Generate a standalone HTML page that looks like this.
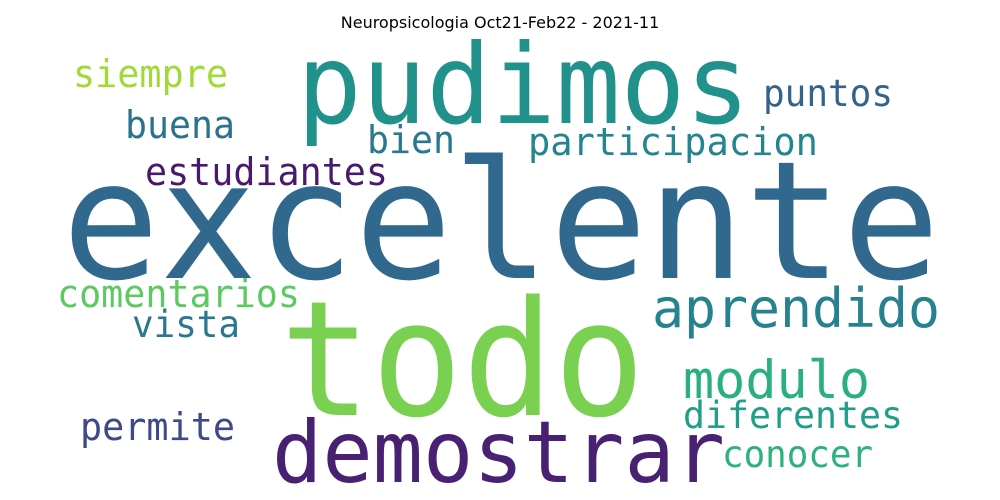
<!DOCTYPE html>
<html><head><meta charset="utf-8"><style>
html,body{margin:0;padding:0;background:#fff;width:1000px;height:500px;overflow:hidden}
svg text{font-family:"DejaVu Sans Mono","Liberation Mono",monospace}
</style></head><body>
<svg width="1000" height="500">
<text x="500" y="28" text-anchor="middle" font-size="16" style="font-family:'DejaVu Sans','Liberation Sans',sans-serif">Neuropsicologia Oct21-Feb22 - 2021-11</text>
<g id="cloud"></g>
</svg>
<script>
const words=["excelente","pudimos","todo","demostrar","aprendido","modulo","diferentes","conocer","permite","vista","comentarios","estudiantes","bien","buena","siempre","participacion","puntos"];
const fontSizes=[164,111,160,86,54,53,37,37,38,37,38,38,38,38,38,38,37];
const wordColors=["#31688e","#21918c","#7ad151","#482173","#26828e","#2ab07f","#1f9e89","#2db27d","#3e4989","#2a788e","#5ec962","#481a6c","#2a788e","#2c728e","#a0da39","#25858e","#33638d"];
const boxes=[[62,278,878],[297,123,453],[280,415,365],[272,482,453],[652,327,288],[683,398,187],[683,428,220],[722,467,151],[80,440,155],[132,337,108],[57,307,243],[145,185,243],[367,153,88],[125,138,110],[73,87,155],[528,155,290],[763,106,130]];
const g=document.getElementById('cloud');
words.forEach((w,i)=>{
  const t=document.createElementNS('http://www.w3.org/2000/svg','text');
  t.setAttribute('x',boxes[i][0]);
  t.setAttribute('y',boxes[i][1]);
  t.setAttribute('font-size',fontSizes[i]);
  t.setAttribute('fill',wordColors[i]);
  t.setAttribute('textLength',boxes[i][2]);
  t.setAttribute('lengthAdjust','spacingAndGlyphs');
  t.textContent=w;
  
  
  g.appendChild(t);
});
</script>
</body></html>
